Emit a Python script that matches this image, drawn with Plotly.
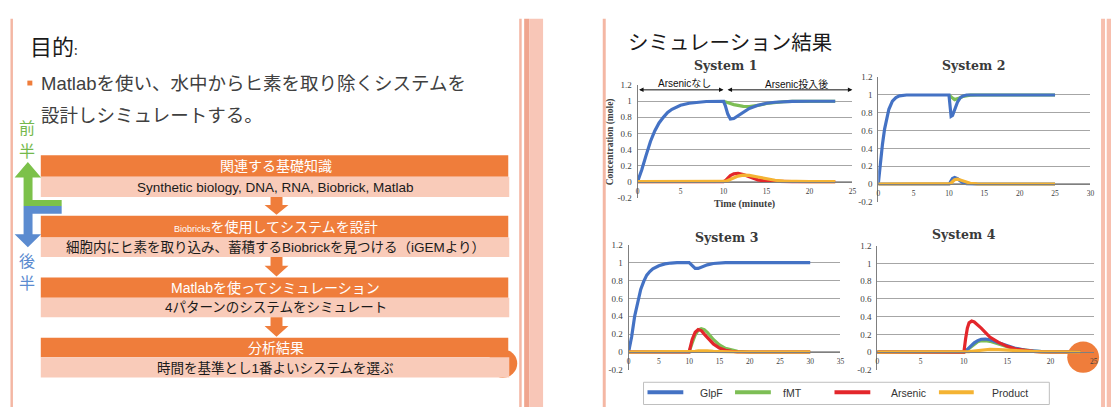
import plotly.graph_objects as go

W, H = 1115, 410


def px(x):
    return x / W


def py(y):
    return 1 - y / H


# ---------------- data ----------------
SERIES = ["GlpF", "fMT", "Arsenic", "Product"]
COLORS = ["#4472C4", "#7DBE55", "#E3262B", "#F4B333"]
PANEL_TITLES = ["System 1", "System 2", "System 3", "System 4"]
Y_TICKS = [-0.2, 0, 0.2, 0.4, 0.6, 0.8, 1.0, 1.2]
Y_TICK_TEXT = ["-0.2", "0", "0.2", "0.4", "0.6", "0.8", "1", "1.2"]
X_TICKS_1 = [0, 5, 10, 15, 20, 25]
X_TICKS_2 = [0, 5, 10, 15, 20, 25, 30]
X_TICKS_3 = [0, 5, 10, 15, 20, 25, 30, 35]
X_TICKS_4 = [0, 5, 10, 15, 20, 25]

# System 1
s1_time = [0, 0.5, 1, 1.5, 2, 2.5, 3, 3.5, 4, 5, 6, 7, 8,
           10, 10.2, 10.5, 10.8, 11.2, 11.7, 12.3, 13, 14, 15, 16, 17, 18, 20, 23]
s1_glpf = [0, 0.15, 0.33, 0.5, 0.63, 0.73, 0.8, 0.86, 0.9, 0.95, 0.975, 0.99, 0.997,
           1.0, 0.95, 0.84, 0.78, 0.785, 0.82, 0.86, 0.91, 0.95, 0.975, 0.988, 0.995, 0.998, 1.0, 1.0]
s1_fmt_time = [10, 10.2, 10.5, 10.8, 11.2, 11.7, 12.3, 13, 14, 15, 16, 17, 18, 20, 23]
s1_fmt = [1.0, 0.995, 0.985, 0.972, 0.958, 0.945, 0.936, 0.935, 0.948, 0.972, 0.986, 0.994, 0.998, 1.0, 1.0]
s1_arsenic = [0, 0, 0, 0, 0, 0, 0, 0, 0, 0, 0, 0, 0,
              0, 0.01, 0.045, 0.075, 0.097, 0.103, 0.088, 0.058, 0.022, 0.006, 0.001, 0, 0, 0, 0]
s1_product = [0, 0, 0, 0, 0, 0, 0, 0, 0, 0, 0, 0, 0,
              0, 0.003, 0.015, 0.03, 0.05, 0.068, 0.08, 0.077, 0.057, 0.034, 0.017, 0.007, 0.002, 0, 0]

# System 2
s2_time = [0, 0.3, 0.6, 0.9, 1.2, 1.5, 2, 2.5, 3, 4,
           10, 10.15, 10.3, 10.5, 10.8, 11.2, 11.6, 12, 12.5, 13, 14, 15, 25]
s2_glpf = [0, 0.24, 0.45, 0.62, 0.75, 0.84, 0.93, 0.97, 0.99, 1.0,
           1.0, 0.88, 0.76, 0.77, 0.84, 0.92, 0.97, 0.99, 1.0, 1.0, 1.0, 1.0, 1.0]
s2_fmt_time = [10, 10.3, 10.5, 10.8, 11.2, 11.6, 12, 12.5, 13, 14, 15, 25]
s2_fmt = [1.0, 0.985, 0.965, 0.948, 0.955, 0.97, 0.985, 0.993, 0.998, 1.0, 1.0, 1.0]
s2_arsenic = [0, 0, 0, 0, 0, 0, 0, 0, 0, 0,
              0, 0.015, 0.04, 0.062, 0.073, 0.06, 0.035, 0.015, 0.005, 0.001, 0, 0, 0]
s2_product = [0, 0, 0, 0, 0, 0, 0, 0, 0, 0,
              0, 0.003, 0.012, 0.028, 0.048, 0.055, 0.045, 0.03, 0.017, 0.008, 0.001, 0, 0]

# System 3
s3_time = [0, 0.5, 1, 1.5, 2, 2.5, 3, 3.5, 4, 5, 6, 7, 8,
           10, 10.5, 11, 11.5, 12, 12.5, 13, 14, 15, 16, 17, 18, 20, 30]
s3_glpf = [0, 0.17, 0.4, 0.57, 0.7, 0.79, 0.86, 0.9, 0.93, 0.965, 0.985, 0.995, 1.0,
           1.0, 0.97, 0.935, 0.935, 0.95, 0.965, 0.975, 0.99, 0.997, 1.0, 1.0, 1.0, 1.0, 1.0]
s3_fmt = [0, 0, 0, 0, 0, 0, 0, 0, 0, 0, 0, 0, 0,
          0, 0.1, 0.19, 0.245, 0.26, 0.25, 0.22, 0.14, 0.08, 0.04, 0.02, 0.008, 0, 0]
s3_arsenic = [0, 0, 0, 0, 0, 0, 0, 0, 0, 0, 0, 0, 0,
              0, 0.14, 0.22, 0.25, 0.24, 0.2, 0.16, 0.09, 0.045, 0.02, 0.008, 0.002, 0, 0]
s3_product = [0, 0, 0, 0, 0, 0, 0, 0, 0, 0, 0, 0, 0,
              0, 0.004, 0.008, 0.012, 0.015, 0.015, 0.013, 0.008, 0.004, 0.002, 0.001, 0, 0, 0]

# System 4
s4_time = [0, 10, 10.2, 10.4, 10.6, 10.9, 11.2, 11.6, 12, 12.5, 13, 14, 15, 16, 17, 18, 19, 20, 23.5]
s4_glpf = [0, 0, 0.012, 0.03, 0.05, 0.08, 0.105, 0.13, 0.145, 0.148, 0.14, 0.105, 0.07, 0.042,
           0.024, 0.013, 0.007, 0.003, 0]
s4_fmt = [0, 0, 0.01, 0.026, 0.045, 0.072, 0.095, 0.117, 0.128, 0.13, 0.122, 0.09, 0.06, 0.036,
          0.02, 0.011, 0.005, 0.002, 0]
s4_arsenic = [0, 0, 0.15, 0.27, 0.33, 0.35, 0.34, 0.31, 0.27, 0.22, 0.17, 0.11, 0.065, 0.035,
              0.018, 0.009, 0.004, 0.002, 0]
s4_product = [0, 0, 0.001, 0.003, 0.006, 0.01, 0.014, 0.019, 0.024, 0.028, 0.03, 0.028, 0.022,
              0.015, 0.01, 0.006, 0.004, 0.002, 0]

# slide texts
LEFT_TITLE = "目的"
BULLET_LINES = ["Matlabを使い、水中からヒ素を取り除くシステムを", "設計しシミュレートする。"]
STEP_HEADERS = ["関連する基礎知識",
                "<span style='font-size:9px'>Biobricks</span>を使用してシステムを設計",
                "Matlabを使ってシミュレーション",
                "分析結果"]
STEP_DETAILS = ["Synthetic biology, DNA, RNA, Biobrick, Matlab",
                "細胞内にヒ素を取り込み、蓄積するBiobrickを見つける（iGEMより）",
                "4パターンのシステムをシミュレート",
                "時間を基準とし1番よいシステムを選ぶ"]
RIGHT_TITLE = "シミュレーション結果"

# ---------------- styling ----------------
SANS = "Liberation Sans, Noto Sans CJK JP, sans-serif"
JP = "Noto Sans CJK JP, Liberation Sans, sans-serif"
SERIF = "Liberation Serif, serif"
TSERIF = "DejaVu Serif, serif"
ORANGE = "#EF7D3B"
PINK = "#F9CBB9"
BORDER = "#F4B7A4"
GRID = "#A6A6A6"
AXIS = "#7F7F7F"

fig = go.Figure()
annotations = []
shapes = []


def label(x, y, text, font, xanchor="center", angle=0):
    """Text placed in pixel coordinates of the page."""
    annotations.append(dict(x=px(x), y=py(y), xref="paper", yref="paper", text=text,
                            showarrow=False, font=font, xanchor=xanchor, yanchor="middle",
                            textangle=angle))


# panel geometry in pixels: left, right, top (y=1.2), bottom (y=-0.2)
panels = [
    (639, 855, 82.2, 197.5, 25, X_TICKS_1),
    (881, 1094.3, 74, 201.7, 30, X_TICKS_2),
    (630, 843, 245.7, 374, 35, X_TICKS_3),
    (880, 1097.7, 246.7, 374, 25, X_TICKS_4),
]
title_pos = [(727, 62), (977, 62), (728, 238), (967, 235)]

system_data = [
    [(s1_fmt_time, s1_fmt, 1), (s1_time, s1_glpf, 0), (s1_time, s1_arsenic, 2), (s1_time, s1_product, 3)],
    [(s2_fmt_time, s2_fmt, 1), (s2_time, s2_glpf, 0), (s2_time, s2_arsenic, 0), (s2_time, s2_product, 3)],
    [(s3_time, s3_fmt, 1), (s3_time, s3_glpf, 0), (s3_time, s3_arsenic, 2), (s3_time, s3_product, 3)],
    [(s4_time, s4_fmt, 1), (s4_time, s4_glpf, 0), (s4_time, s4_arsenic, 2), (s4_time, s4_product, 3)],
]

for i, ((l, r, t, b, xmax, xticks), traces) in enumerate(zip(panels, system_data)):
    n = "" if i == 0 else str(i + 1)
    zero_y = b - (0.2 / 1.4) * (b - t)
    for (tx, ty, ci) in traces:
        fig.add_trace(go.Scatter(
            x=tx, y=ty, mode="lines", name=SERIES[ci],
            line=dict(color=COLORS[ci], width=3.2),
            xaxis="x" + n, yaxis="y" + n, hoverinfo="skip", showlegend=False,
        ))
    fig.layout["xaxis" + n] = dict(
        domain=[px(l), px(r)], range=[0, xmax], tickvals=xticks,
        showgrid=False, zeroline=False, showline=True, linecolor=AXIS, linewidth=1,
        ticks="", ticklabelstandoff=2, anchor="free", position=py(zero_y),
        tickfont=dict(family=SERIF, size=7.5, color="#404040"), fixedrange=True,
    )
    fig.layout["yaxis" + n] = dict(
        domain=[py(b), py(t)], range=[-0.2, 1.2], tickvals=Y_TICKS, ticktext=Y_TICK_TEXT,
        showgrid=True, gridcolor=GRID, gridwidth=1, zeroline=False,
        showline=True, linecolor=AXIS, linewidth=1, ticks="", ticklabelstandoff=3,
        anchor="x" + n, tickfont=dict(family=SERIF, size=9, color="#404040"), fixedrange=True,
    )
    label(title_pos[i][0], title_pos[i][1], "<b>" + PANEL_TITLES[i] + "</b>",
          dict(family=TSERIF, size=12.5, color="#3a3a3a"))

# axis titles of the first panel
label(612, 140, "<b>Concentration (mole)</b>", dict(family=SERIF, size=9.5, color="#404040"), angle=-90)
label(747, 204, "<b>Time (minute)</b>", dict(family=SERIF, size=10, color="#404040"))

# arsenic phase markers on System 1
for (x0, x1) in [(0, 10), (10.3, 25)]:
    annotations.append(dict(x=x1, y=1.142, ax=x0, ay=1.142, xref="x", yref="y", axref="x", ayref="y",
                            text="", showarrow=True, arrowside="end+start", arrowhead=2,
                            startarrowhead=2, arrowsize=0.9, startarrowsize=0.9,
                            arrowwidth=1, arrowcolor="#111"))
label(686, 80.5, "Arsenicなし", dict(family=SANS, size=10, color="#111"))
label(798.5, 80.5, "Arsenic投入後", dict(family=SANS, size=10, color="#111"))

# legend drawn along the bottom of the lower panels
shapes.append(dict(type="rect", xref="paper", yref="paper", x0=px(645), x1=px(1053),
                   y0=py(409.5), y1=py(386.7), line=dict(color="#BFBFBF", width=1),
                   fillcolor="rgba(0,0,0,0)", layer="above"))
leg_lines = [(649, 685), (737, 773), (837, 873), (942, 977)]
leg_text_x = [700, 783, 892, 993]
for k in range(4):
    shapes.append(dict(type="line", xref="paper", yref="paper", x0=px(leg_lines[k][0]),
                       x1=px(leg_lines[k][1]), y0=py(397), y1=py(397),
                       line=dict(color=COLORS[k], width=4)))
    label(leg_text_x[k], 398, SERIES[k], dict(family=SANS, size=10.5, color="#333"), xanchor="left")


# ---------------- slide decorations ----------------
def rect(x0, x1, y0, y1, color, layer="below"):
    shapes.append(dict(type="rect", xref="paper", yref="paper", x0=px(x0), x1=px(x1),
                       y0=py(y1), y1=py(y0), line=dict(width=0), fillcolor=color, layer=layer))


def poly(points, color, layer="below"):
    path = "M " + " L ".join(f"{px(x):.5f},{py(y):.5f}" for x, y in points) + " Z"
    shapes.append(dict(type="path", xref="paper", yref="paper", path=path,
                       line=dict(width=0), fillcolor=color, layer=layer))


# slide frames
rect(8.5, 11, 14, 412, BORDER)
rect(520, 522.5, 14, 412, BORDER)
rect(525, 530, 14, 412, "#F0A58E")
rect(530, 544, 14, 412, "#F8C6B7")
rect(604, 607, 14, 412, BORDER)
rect(1105, 1109, 14, 412, "#F7BFAE")
rect(1110.7, 1115, 14, 412, "#F7BFAE")

# orange dots
shapes.append(dict(type="circle", xref="paper", yref="paper", x0=px(489), x1=px(518),
                   y0=py(382), y1=py(353), fillcolor=ORANGE, line=dict(width=0), layer="below"))
shapes.append(dict(type="circle", xref="paper", yref="paper", x0=px(1071), x1=px(1103),
                   y0=py(377), y1=py(345), fillcolor=ORANGE, line=dict(width=0), layer="below"))

# bullet
rect(25.5, 30.5, 77.5, 82.5, ORANGE)

# flow boxes
headers_y = [(154, 176), (216, 238.3), (279.3, 300), (341, 361)]
details_y = [(176, 196.7), (238.3, 258.3), (300, 320), (361, 381.7)]
for k in range(4):
    rect(39, 509, headers_y[k][0], headers_y[k][1], ORANGE)
    rect(39, 510, details_y[k][0], details_y[k][1], PINK)
    label(275, sum(headers_y[k]) / 2 + 0.5, STEP_HEADERS[k], dict(family=SANS, size=14, color="white"))
    label(275, sum(details_y[k]) / 2 + 0.5, STEP_DETAILS[k], dict(family=SANS, size=13.5, color="#1a1a1a"))
    if k < 3:
        y0 = details_y[k][1]
        y1 = headers_y[k + 1][0] - 1
        ym = y0 + 0.45 * (y1 - y0)
        poly([(270, y0), (282, y0), (282, ym), (288, ym), (276, y1), (264, ym), (270, ym)], ORANGE)

# first-half / second-half arrows
poly([(21.7, 206), (60, 206), (60, 200), (30.7, 200), (30.7, 176.7), (39.3, 176.7), (26, 161),
      (12.7, 176.7), (21.7, 176.7)], "#7CC14A")
poly([(21.7, 206), (60, 206), (60, 214), (30.7, 214), (30.7, 235), (39.3, 235), (26, 248.3),
      (12.7, 235), (21.7, 235)], "#5B8BD0")
for ch, y, c in [("前", 125, "#74B94B"), ("半", 148.5, "#74B94B"), ("後", 261, "#5B8BD0"), ("半", 284, "#5B8BD0")]:
    label(25.5, y, ch, dict(family=JP, size=16, color=c))

# slide titles and bullet text
label(26, 41, LEFT_TITLE + "<span style='font-size:13px'>:</span>", dict(family=JP, size=22, color="#1a1a1a"),
      xanchor="left")
label(37, 80, BULLET_LINES[0], dict(family=SANS, size=18.5, color="#404040"), xanchor="left")
label(37, 113, BULLET_LINES[1], dict(family=SANS, size=18.5, color="#404040"), xanchor="left")
label(627, 37, RIGHT_TITLE, dict(family=JP, size=20.5, color="#1a1a1a"), xanchor="left")

fig.update_layout(
    width=W, height=H, margin=dict(l=0, r=0, t=0, b=0),
    paper_bgcolor="white", plot_bgcolor="rgba(0,0,0,0)",
    showlegend=False, annotations=annotations, shapes=shapes,
)

fig.write_html("out.html")
